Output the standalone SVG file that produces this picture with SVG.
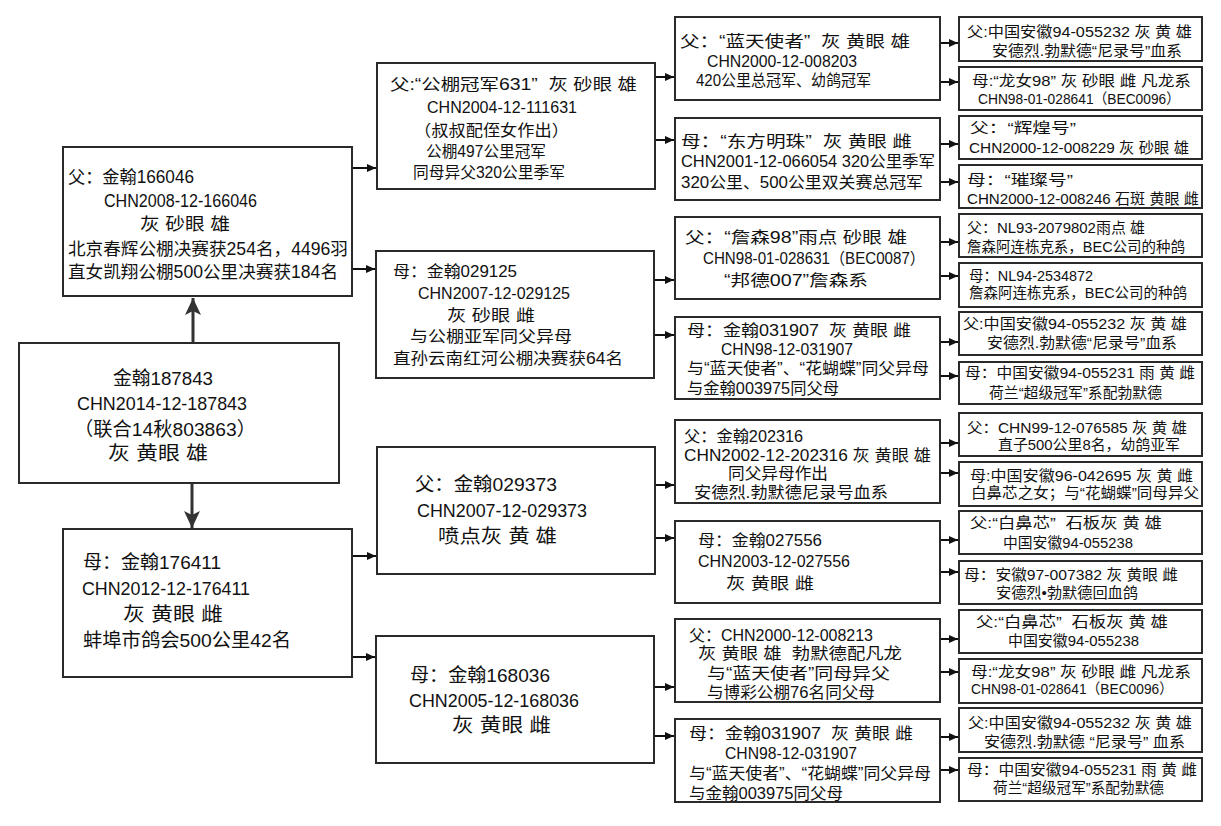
<svg xmlns="http://www.w3.org/2000/svg" width="1221" height="826" viewBox="0 0 1221 826">
<style>
.bx{fill:#fff;stroke:#2a2a2a;stroke-width:2}
text{font-family:"Liberation Sans","Noto Sans CJK SC",sans-serif;fill:#111;dominant-baseline:central;white-space:pre}
.f20{font-size:19px}
.f18{font-size:17.5px}
.f17{font-size:16px}
.f15{font-size:14.5px}
.cn{stroke:#111;stroke-width:2;fill:none}
.cv{stroke:#333;stroke-width:3;fill:none}
</style>
<defs>
<marker id="ah" markerUnits="userSpaceOnUse" markerWidth="10" markerHeight="10" refX="9" refY="5" orient="auto"><path d="M0,1 L9,5 L0,9 Z" fill="#111"/></marker>
<marker id="ahb" markerUnits="userSpaceOnUse" markerWidth="18" markerHeight="16" refX="17" refY="8" orient="auto"><path d="M0,0 L17,8 L0,16 L4,8 Z" fill="#333"/></marker>
</defs>
<rect x="0" y="0" width="1221" height="826" fill="#fff"/>

<g id="connectors">
<line class="cv" x1="193" y1="343" x2="193" y2="298" marker-end="url(#ahb)"/>
<line class="cv" x1="192" y1="483" x2="192" y2="528" marker-end="url(#ahb)"/>
<line class="cn" x1="352" y1="168" x2="376" y2="168" marker-end="url(#ah)"/>
<line class="cn" x1="352" y1="269" x2="375" y2="269" marker-end="url(#ah)"/>
<line class="cn" x1="352" y1="556" x2="376" y2="556" marker-end="url(#ah)"/>
<line class="cn" x1="352" y1="657" x2="375" y2="657" marker-end="url(#ah)"/>
<line class="cn" x1="655" y1="77" x2="674" y2="77" marker-end="url(#ah)"/>
<line class="cn" x1="655" y1="140" x2="674" y2="140" marker-end="url(#ah)"/>
<line class="cn" x1="654" y1="280" x2="674" y2="280" marker-end="url(#ah)"/>
<line class="cn" x1="654" y1="335" x2="674" y2="335" marker-end="url(#ah)"/>
<line class="cn" x1="655" y1="485" x2="674" y2="485" marker-end="url(#ah)"/>
<line class="cn" x1="655" y1="538" x2="674" y2="538" marker-end="url(#ah)"/>
<line class="cn" x1="654" y1="687" x2="674" y2="687" marker-end="url(#ah)"/>
<line class="cn" x1="654" y1="736" x2="674" y2="736" marker-end="url(#ah)"/>
<line class="cn" x1="940" y1="43" x2="958" y2="43" marker-end="url(#ah)"/>
<line class="cn" x1="940" y1="82" x2="958" y2="82" marker-end="url(#ah)"/>
<line class="cn" x1="940" y1="144" x2="958" y2="144" marker-end="url(#ah)"/>
<line class="cn" x1="940" y1="182" x2="958" y2="182" marker-end="url(#ah)"/>
<line class="cn" x1="940" y1="242" x2="958" y2="242" marker-end="url(#ah)"/>
<line class="cn" x1="940" y1="276" x2="958" y2="276" marker-end="url(#ah)"/>
<line class="cn" x1="940" y1="342" x2="958" y2="342" marker-end="url(#ah)"/>
<line class="cn" x1="940" y1="376" x2="958" y2="376" marker-end="url(#ah)"/>
<line class="cn" x1="940" y1="443" x2="958" y2="443" marker-end="url(#ah)"/>
<line class="cn" x1="940" y1="473" x2="958" y2="473" marker-end="url(#ah)"/>
<line class="cn" x1="940" y1="540" x2="958" y2="540" marker-end="url(#ah)"/>
<line class="cn" x1="940" y1="572" x2="958" y2="572" marker-end="url(#ah)"/>
<line class="cn" x1="940" y1="639" x2="958" y2="639" marker-end="url(#ah)"/>
<line class="cn" x1="940" y1="672" x2="958" y2="672" marker-end="url(#ah)"/>
<line class="cn" x1="940" y1="737" x2="958" y2="737" marker-end="url(#ah)"/>
<line class="cn" x1="940" y1="770" x2="958" y2="770" marker-end="url(#ah)"/>
</g>

<g id="n-main">
<rect class="bx" x="19" y="343" width="320" height="140"/>
<text class="f20" x="113" y="378" textLength="100" lengthAdjust="spacingAndGlyphs">金翰187843</text>
<text class="f20" x="77" y="403" textLength="170" lengthAdjust="spacingAndGlyphs">CHN2014-12-187843</text>
<text class="f20" x="74" y="429" textLength="182" lengthAdjust="spacingAndGlyphs">（联合14秋803863）</text>
<text class="f20" x="108" y="453" textLength="100" lengthAdjust="spacingAndGlyphs">灰 黄眼 雄</text>
</g>

<g id="n-sire">
<rect class="bx" x="63" y="147" width="289" height="149"/>
<text class="f18" x="68" y="177" textLength="126" lengthAdjust="spacingAndGlyphs">父：金翰166046</text>
<text class="f18" x="104" y="201" textLength="153" lengthAdjust="spacingAndGlyphs">CHN2008-12-166046</text>
<text class="f18" x="140" y="224" textLength="90" lengthAdjust="spacingAndGlyphs">灰 砂眼 雄</text>
<text class="f18" x="68" y="249" textLength="280" lengthAdjust="spacingAndGlyphs">北京春辉公棚决赛获254名，4496羽</text>
<text class="f18" x="68" y="272" textLength="270" lengthAdjust="spacingAndGlyphs">直女凯翔公棚500公里决赛获184名</text>
</g>

<g id="n-dam">
<rect class="bx" x="63" y="529" width="289" height="148"/>
<text class="f20" x="83" y="562" textLength="138" lengthAdjust="spacingAndGlyphs">母：金翰176411</text>
<text class="f20" x="82" y="588" textLength="168" lengthAdjust="spacingAndGlyphs">CHN2012-12-176411</text>
<text class="f20" x="123" y="614" textLength="100" lengthAdjust="spacingAndGlyphs">灰 黄眼 雌</text>
<text class="f20" x="83" y="640" textLength="208" lengthAdjust="spacingAndGlyphs">蚌埠市鸽会500公里42名</text>
</g>

<g id="n-ss">
<rect class="bx" x="377" y="63" width="278" height="126"/>
<text class="f17" x="390" y="84" textLength="247" lengthAdjust="spacingAndGlyphs">父:“公棚冠军631”  灰 砂眼 雄</text>
<text class="f17" x="427" y="107" textLength="150" lengthAdjust="spacingAndGlyphs">CHN2004-12-111631</text>
<text class="f17" x="414" y="130" textLength="155" lengthAdjust="spacingAndGlyphs">（叔叔配侄女作出）</text>
<text class="f17" x="426" y="151" textLength="120" lengthAdjust="spacingAndGlyphs">公棚497公里冠军</text>
<text class="f17" x="413" y="172" textLength="152" lengthAdjust="spacingAndGlyphs">同母异父320公里季军</text>
</g>

<g id="n-sd">
<rect class="bx" x="376" y="251" width="278" height="127"/>
<text class="f17" x="393" y="271" textLength="124" lengthAdjust="spacingAndGlyphs">母：金翰029125</text>
<text class="f17" x="418" y="293" textLength="152" lengthAdjust="spacingAndGlyphs">CHN2007-12-029125</text>
<text class="f17" x="447" y="315" textLength="88" lengthAdjust="spacingAndGlyphs">灰 砂眼 雌</text>
<text class="f17" x="410" y="336" textLength="162" lengthAdjust="spacingAndGlyphs">与公棚亚军同父异母</text>
<text class="f17" x="393" y="358" textLength="230" lengthAdjust="spacingAndGlyphs">直孙云南红河公棚决赛获64名</text>
</g>

<g id="n-ds">
<rect class="bx" x="377" y="447" width="278" height="127"/>
<text class="f20" x="415" y="484" textLength="142" lengthAdjust="spacingAndGlyphs">父：金翰029373</text>
<text class="f20" x="417" y="510" textLength="170" lengthAdjust="spacingAndGlyphs">CHN2007-12-029373</text>
<text class="f20" x="438" y="536" textLength="119" lengthAdjust="spacingAndGlyphs">喷点灰 黄 雄</text>
</g>

<g id="n-dd">
<rect class="bx" x="376" y="636" width="278" height="127"/>
<text class="f20" x="410" y="675" textLength="140" lengthAdjust="spacingAndGlyphs">母：金翰168036</text>
<text class="f20" x="409" y="700" textLength="170" lengthAdjust="spacingAndGlyphs">CHN2005-12-168036</text>
<text class="f20" x="452" y="725" textLength="99" lengthAdjust="spacingAndGlyphs">灰 黄眼 雌</text>
</g>

<g id="n-sss">
<rect class="bx" x="675" y="17" width="265" height="83"/>
<text class="f17" x="680" y="41" textLength="230" lengthAdjust="spacingAndGlyphs">父：“蓝天使者”  灰 黄眼 雄</text>
<text class="f17" x="707" y="61" textLength="150" lengthAdjust="spacingAndGlyphs">CHN2000-12-008203</text>
<text class="f17" x="696" y="80" textLength="175" lengthAdjust="spacingAndGlyphs">420公里总冠军、幼鸽冠军</text>
</g>

<g id="n-ssd">
<rect class="bx" x="675" y="118" width="265" height="82"/>
<text class="f17" x="681" y="141" textLength="231" lengthAdjust="spacingAndGlyphs">母：“东方明珠”  灰 黄眼 雌</text>
<text class="f17" x="681" y="161" textLength="254" lengthAdjust="spacingAndGlyphs">CHN2001-12-066054 320公里季军</text>
<text class="f17" x="681" y="182" textLength="242" lengthAdjust="spacingAndGlyphs">320公里、500公里双关赛总冠军</text>
</g>

<g id="n-sds">
<rect class="bx" x="675" y="217" width="265" height="82"/>
<text class="f17" x="685" y="237" textLength="222" lengthAdjust="spacingAndGlyphs">父：“詹森98”雨点 砂眼 雄</text>
<text class="f17" x="703" y="258" textLength="222" lengthAdjust="spacingAndGlyphs">CHN98-01-028631（BEC0087）</text>
<text class="f17" x="724" y="280" textLength="144" lengthAdjust="spacingAndGlyphs">“邦德007”詹森系</text>
</g>

<g id="n-sdd">
<rect class="bx" x="675" y="317" width="265" height="82"/>
<text class="f17" x="687" y="330" textLength="224" lengthAdjust="spacingAndGlyphs">母：金翰031907  灰 黄眼 雌</text>
<text class="f17" x="721" y="349" textLength="132" lengthAdjust="spacingAndGlyphs">CHN98-12-031907</text>
<text class="f17" x="687" y="368" textLength="242" lengthAdjust="spacingAndGlyphs">与“蓝天使者”、“花蝴蝶”同父异母</text>
<text class="f17" x="687" y="388" textLength="152" lengthAdjust="spacingAndGlyphs">与金翰003975同父母</text>
</g>

<g id="n-dss">
<rect class="bx" x="675" y="420" width="265" height="83"/>
<text class="f17" x="684" y="436" textLength="119" lengthAdjust="spacingAndGlyphs">父：金翰202316</text>
<text class="f17" x="684" y="455" textLength="247" lengthAdjust="spacingAndGlyphs">CHN2002-12-202316 灰 黄眼 雄</text>
<text class="f17" x="728" y="473" textLength="100" lengthAdjust="spacingAndGlyphs">同父异母作出</text>
<text class="f17" x="694" y="492" textLength="194" lengthAdjust="spacingAndGlyphs">安德烈.勃默德尼录号血系</text>
</g>

<g id="n-dsd">
<rect class="bx" x="675" y="521" width="265" height="82"/>
<text class="f17" x="698" y="540" textLength="124" lengthAdjust="spacingAndGlyphs">母：金翰027556</text>
<text class="f17" x="698" y="561" textLength="152" lengthAdjust="spacingAndGlyphs">CHN2003-12-027556</text>
<text class="f17" x="726" y="583" textLength="88" lengthAdjust="spacingAndGlyphs">灰 黄眼 雌</text>
</g>

<g id="n-dds">
<rect class="bx" x="675" y="619" width="265" height="83"/>
<text class="f17" x="689" y="635" textLength="184" lengthAdjust="spacingAndGlyphs">父：CHN2000-12-008213</text>
<text class="f17" x="698" y="653" textLength="204" lengthAdjust="spacingAndGlyphs">灰 黄眼 雄  勃默德配凡龙</text>
<text class="f17" x="707" y="673" textLength="183" lengthAdjust="spacingAndGlyphs">与“蓝天使者”同母异父</text>
<text class="f17" x="707" y="692" textLength="168" lengthAdjust="spacingAndGlyphs">与博彩公棚76名同父母</text>
</g>

<g id="n-ddd">
<rect class="bx" x="675" y="719" width="265" height="83"/>
<text class="f17" x="689" y="733" textLength="224" lengthAdjust="spacingAndGlyphs">母：金翰031907  灰 黄眼 雌</text>
<text class="f17" x="725" y="753" textLength="132" lengthAdjust="spacingAndGlyphs">CHN98-12-031907</text>
<text class="f17" x="689" y="773" textLength="242" lengthAdjust="spacingAndGlyphs">与“蓝天使者”、“花蝴蝶”同父异母</text>
<text class="f17" x="689" y="793" textLength="154" lengthAdjust="spacingAndGlyphs">与金翰003975同父母</text>
</g>

<g id="n-ssss">
<rect class="bx" x="959" y="17" width="243" height="44"/>
<text class="f15" x="967" y="32" textLength="225" lengthAdjust="spacingAndGlyphs">父:中国安徽94-055232 灰 黄 雄</text>
<text class="f15" x="992" y="51" textLength="190" lengthAdjust="spacingAndGlyphs">安德烈.勃默德“尼录号”血系</text>
</g>
<g id="n-sssd">
<rect class="bx" x="959" y="67" width="243" height="43"/>
<text class="f15" x="972" y="81" textLength="219" lengthAdjust="spacingAndGlyphs">母:“龙女98” 灰 砂眼 雌 凡龙系</text>
<text class="f15" x="978" y="99" textLength="202" lengthAdjust="spacingAndGlyphs">CHN98-01-028641（BEC0096）</text>
</g>
<g id="n-ssds">
<rect class="bx" x="959" y="116" width="243" height="43"/>
<text class="f15" x="970" y="128" textLength="106" lengthAdjust="spacingAndGlyphs">父：“辉煌号”</text>
<text class="f15" x="969" y="148" textLength="220" lengthAdjust="spacingAndGlyphs">CHN2000-12-008229 灰 砂眼 雄</text>
</g>
<g id="n-ssdd">
<rect class="bx" x="959" y="165" width="243" height="43"/>
<text class="f15" x="967" y="180" textLength="106" lengthAdjust="spacingAndGlyphs">母：“璀璨号”</text>
<text class="f15" x="967" y="199" textLength="232" lengthAdjust="spacingAndGlyphs">CHN2000-12-008246 石斑 黄眼 雌</text>
</g>
<g id="n-sdss">
<rect class="bx" x="959" y="214" width="243" height="43"/>
<text class="f15" x="967" y="228" textLength="178" lengthAdjust="spacingAndGlyphs">父：NL93-2079802雨点 雄</text>
<text class="f15" x="967" y="247" textLength="218" lengthAdjust="spacingAndGlyphs">詹森阿连栋克系，BEC公司的种鸽</text>
</g>
<g id="n-sdsd">
<rect class="bx" x="959" y="263" width="243" height="44"/>
<text class="f15" x="969" y="276" textLength="124" lengthAdjust="spacingAndGlyphs">母：NL94-2534872</text>
<text class="f15" x="969" y="293" textLength="218" lengthAdjust="spacingAndGlyphs">詹森阿连栋克系，BEC公司的种鸽</text>
</g>
<g id="n-sdds">
<rect class="bx" x="959" y="312" width="243" height="43"/>
<text class="f15" x="963" y="324" textLength="224" lengthAdjust="spacingAndGlyphs">父:中国安徽94-055232 灰 黄 雄</text>
<text class="f15" x="987" y="343" textLength="190" lengthAdjust="spacingAndGlyphs">安德烈.勃默德“尼录号”血系</text>
</g>
<g id="n-sddd">
<rect class="bx" x="959" y="362" width="243" height="42"/>
<text class="f15" x="965" y="373" textLength="230" lengthAdjust="spacingAndGlyphs">母：中国安徽94-055231 雨 黄 雌</text>
<text class="f15" x="989" y="393" textLength="173" lengthAdjust="spacingAndGlyphs">荷兰“超级冠军”系配勃默德</text>
</g>
<g id="n-dsss">
<rect class="bx" x="959" y="413" width="243" height="43"/>
<text class="f15" x="967" y="428" textLength="220" lengthAdjust="spacingAndGlyphs">父：CHN99-12-076585 灰 黄 雄</text>
<text class="f15" x="998" y="445" textLength="182" lengthAdjust="spacingAndGlyphs">直子500公里8名，幼鸽亚军</text>
</g>
<g id="n-dssd">
<rect class="bx" x="959" y="462" width="243" height="44"/>
<text class="f15" x="970" y="476" textLength="223" lengthAdjust="spacingAndGlyphs">母:中国安徽96-042695 灰 黄 雌</text>
<text class="f15" x="971" y="493" textLength="228" lengthAdjust="spacingAndGlyphs">白鼻芯之女；与“花蝴蝶”同母异父</text>
</g>
<g id="n-dsds">
<rect class="bx" x="959" y="511" width="243" height="43"/>
<text class="f15" x="970" y="523" textLength="192" lengthAdjust="spacingAndGlyphs">父:“白鼻芯”  石板灰 黄 雄</text>
<text class="f15" x="1003" y="543" textLength="130" lengthAdjust="spacingAndGlyphs">中国安徽94-055238</text>
</g>
<g id="n-dsdd">
<rect class="bx" x="959" y="561" width="243" height="43"/>
<text class="f15" x="964" y="575" textLength="214" lengthAdjust="spacingAndGlyphs">母：安徽97-007382 灰 黄眼 雌</text>
<text class="f15" x="996" y="593" textLength="142" lengthAdjust="spacingAndGlyphs">安德烈•勃默德回血鸽</text>
</g>
<g id="n-ddss">
<rect class="bx" x="959" y="610" width="243" height="43"/>
<text class="f15" x="976" y="622" textLength="192" lengthAdjust="spacingAndGlyphs">父:“白鼻芯”  石板灰 黄 雄</text>
<text class="f15" x="1008" y="641" textLength="131" lengthAdjust="spacingAndGlyphs">中国安徽94-055238</text>
</g>
<g id="n-ddsd">
<rect class="bx" x="959" y="659" width="243" height="44"/>
<text class="f15" x="971" y="672" textLength="220" lengthAdjust="spacingAndGlyphs">母:“龙女98” 灰 砂眼 雌 凡龙系</text>
<text class="f15" x="971" y="689" textLength="202" lengthAdjust="spacingAndGlyphs">CHN98-01-028641（BEC0096）</text>
</g>
<g id="n-ddds">
<rect class="bx" x="959" y="708" width="243" height="44"/>
<text class="f15" x="968" y="723" textLength="224" lengthAdjust="spacingAndGlyphs">父:中国安徽94-055232 灰 黄 雄</text>
<text class="f15" x="984" y="742" textLength="201" lengthAdjust="spacingAndGlyphs">安德烈.勃默德 “尼录号” 血系</text>
</g>
<g id="n-dddd">
<rect class="bx" x="959" y="758" width="243" height="43"/>
<text class="f15" x="967" y="770" textLength="230" lengthAdjust="spacingAndGlyphs">母：中国安徽94-055231 雨 黄 雌</text>
<text class="f15" x="993" y="788" textLength="171" lengthAdjust="spacingAndGlyphs">荷兰“超级冠军”系配勃默德</text>
</g>
</svg>
